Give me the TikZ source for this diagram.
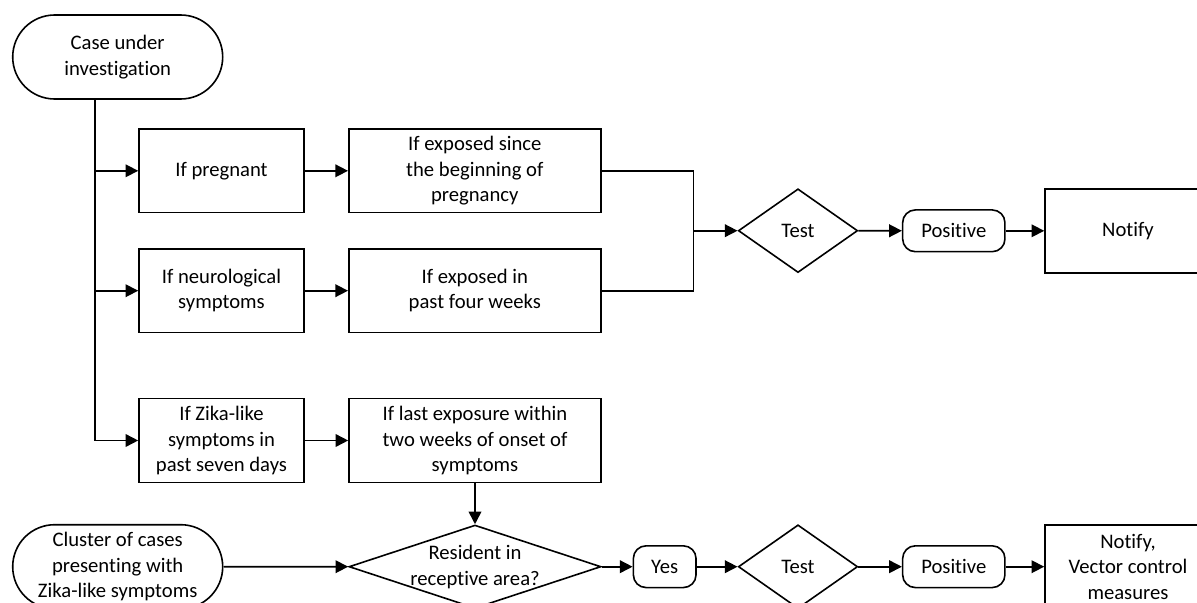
\documentclass[tikz,border=0pt]{standalone}
\usepackage{fontspec}
\setmainfont{Carlito}[Ligatures=NoCommon]
\usetikzlibrary{shapes.geometric,shapes.misc,arrows.meta}
\begin{document}
\begin{tikzpicture}[x=0.75pt,y=-0.75pt,
  every node/.style={font=\fontsize{15.5pt}{19pt}\selectfont, align=center, inner sep=0pt, line width=1.2pt},
  box/.style={draw, rectangle, minimum width=123.75pt, minimum height=62.8pt},
  widebox/.style={draw, rectangle, minimum width=189pt, minimum height=62.8pt},
  term/.style={draw, rounded rectangle, minimum width=157.5pt, minimum height=63pt},
  pill/.style={draw, rectangle, rounded corners=9.5pt, minimum height=31.3pt},
  dec/.style={draw, diamond, minimum width=89.5pt, minimum height=62.8pt},
  endbox/.style={draw, rectangle, minimum width=124.5pt, minimum height=63pt},
  conn/.style={line width=1.2pt},
  arr/.style={line width=1.2pt, -{Triangle[length=9.5pt,width=9.5pt]}}
]
\clip (0,0) rectangle (1197,603);
% nodes
\node[term] (case) at (117.7,57) {Case under\\investigation};
\node[box] (preg) at (221.5,170.8) {If pregnant};
\node[widebox] (expsince) at (474.8,170.8) {If exposed since\\the beginning of\\pregnancy};
\node[box] (neuro) at (221.5,290.7) {If neurological\\symptoms};
\node[widebox] (expin) at (474.8,290.7) {If exposed in\\past four weeks};
\node[box] (zika) at (221.5,440.5) {If Zika-like\\symptoms in\\past seven days};
\node[widebox] (lastexp) at (475,440.5) {If last exposure within\\two weeks of onset of\\symptoms};
\node[dec] (test1) at (798,230.7) {Test};
\node[pill, minimum width=76.7pt] (pos1) at (953.8,230.8) {Positive};
\node[endbox] (notify1) at (1128,230.8) {Notify};
\node[term] (cluster) at (117.7,566.7) {Cluster of cases\\presenting with\\Zika-like symptoms};
\node[draw, diamond, minimum width=189pt, minimum height=62.5pt] (resident) at (475,566.7) {};
\node (residenttext) at (475,567) {Resident in\\receptive area?};
\node[pill, minimum width=47pt] (yes) at (664.7,566.7) {Yes};
\node[dec] (test2) at (798,566.7) {Test};
\node[pill, minimum width=76.7pt] (pos2) at (953.8,566.7) {Positive};
\node[endbox] (notify2) at (1128,566.7) {Notify,\\Vector control\\measures};
% helper coordinates
\coordinate (trunk) at (95,440.5);
\coordinate (join) at (693.3,230.7);
% connectors
\draw[arr] (case.south -| trunk) -- (trunk) -- (zika.west);
\draw[arr] (trunk |- preg.west) -- (preg.west);
\draw[arr] (trunk |- neuro.west) -- (neuro.west);
\draw[arr] (preg) -- (expsince);
\draw[arr] (neuro) -- (expin);
\draw[arr] (zika) -- (lastexp);
\draw[conn] (expsince.east) -| (join) |- (expin.east);
\draw[arr] (join) -- (test1.west);
\draw[arr] (test1) -- (pos1);
\draw[arr] (pos1) -- (notify1);
\draw[arr] (lastexp) -- (resident.north);
\draw[arr] (cluster) -- (resident.west);
\draw[arr] (resident.east) -- (yes);
\draw[arr] (yes) -- (test2);
\draw[arr] (test2) -- (pos2);
\draw[arr] (pos2) -- (notify2);
\end{tikzpicture}
\end{document}
